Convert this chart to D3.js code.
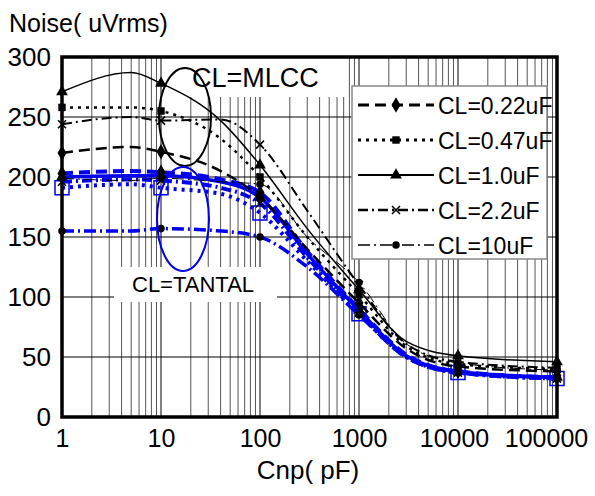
<!DOCTYPE html>
<html>
<head>
<meta charset="utf-8">
<script src="https://cdn.jsdelivr.net/npm/d3@7"></script>
<style>
  body { margin: 0; background: #fff; }
  text { font-family: "Liberation Sans", Arial, sans-serif; }
</style>
</head>
<body>
<script>
var cnp = [1, 5, 10, 40, 100, 300, 1000, 3000, 10000, 100000];
var xTicks = [1, 10, 100, 1000, 10000, 100000];
var yTicks = [0, 50, 100, 150, 200, 250, 300];
var labels = ["CL=0.22uF", "CL=0.47uF", "CL=1.0uF", "CL=2.2uF", "CL=10uF"];

// CL = MLCC (black)
var mlcc022 = [220, 225, 221, 205, 183, 140, 95, 57, 42, 38];
var mlcc047 = [258, 258, 255, 232, 200, 150, 102, 59, 44, 40];
var mlcc10  = [271, 287, 278, 247, 210, 157, 106, 63, 51, 46];
var mlcc22  = [244, 250, 247, 248, 227, 172, 110, 61, 46, 41];
var mlcc10u = [199, 197, 199, 196, 194, 150, 112, 61, 45, 39];

// CL = TANTAL (blue)
var tan022 = [203, 205, 204, 198, 187, 138, 90, 52, 38, 33];
var tan047 = [191, 194, 191, 186, 170, 130, 86, 50, 37, 32];
var tan10  = [200, 201, 201, 196, 183, 136, 89, 51, 38, 33];
var tan22  = [196, 198, 197, 191, 178, 133, 87, 50, 37, 32];
var tan10u = [155, 155, 157, 155, 150, 125, 85, 50, 37, 33];

var W = 595, H = 496;
var margin = {top: 57, right: 38, bottom: 79, left: 62},
    width = W - margin.left - margin.right,
    height = H - margin.top - margin.bottom;

var x = d3.scaleLog().domain([1, 100000]).range([0, width]);
var y = d3.scaleLinear().domain([0, 300]).range([height, 0]);

// line style per CL value
var styles = [
  {dash: "11,6", marker: "diamond", bw: 2.5, tw: 4},
  {dash: "3,5", marker: "square", bw: 2.5, tw: 4},
  {dash: null, marker: "triangle", bw: 1.5, tw: 3.5},
  {dash: "10,4,2,4", marker: "x", bw: 2, tw: 4},
  {dash: "12,4,2,4", marker: "circle", bw: 1, tw: 3.5}
];
var mlcc = [mlcc022, mlcc047, mlcc10, mlcc22, mlcc10u];
var tantal = [tan022, tan047, tan10, tan22, tan10u];

var svg = d3.select("body").append("svg")
    .attr("width", W).attr("height", H);

var g = svg.append("g")
    .attr("transform", "translate(" + margin.left + "," + margin.top + ")");

// grid
var minor = [];
for (var e = 0; e < 5; e++) {
  for (var m = 2; m <= 9; m++) minor.push(m * Math.pow(10, e));
}
g.selectAll(".vminor").data(minor).enter().append("line")
    .attr("x1", function(d) { return x(d); }).attr("x2", function(d) { return x(d); })
    .attr("y1", 0).attr("y2", height)
    .attr("stroke", "#555").attr("stroke-width", 1);
g.selectAll(".vmajor").data(xTicks).enter().append("line")
    .attr("x1", function(d) { return x(d); }).attr("x2", function(d) { return x(d); })
    .attr("y1", 0).attr("y2", height)
    .attr("stroke", "#000").attr("stroke-width", 1);
g.selectAll(".hgrid").data(yTicks).enter().append("line")
    .attr("x1", 0).attr("x2", width)
    .attr("y1", function(d) { return y(d); }).attr("y2", function(d) { return y(d); })
    .attr("stroke", "#000").attr("stroke-width", 1);

// white label boxes covering grid
g.append("rect").attr("x", 190 - margin.left).attr("y", 0)
    .attr("width", 155).attr("height", 40).attr("fill", "#fff");
g.append("rect").attr("x", 114 - margin.left).attr("y", 267 - margin.top)
    .attr("width", 163).attr("height", 35).attr("fill", "#fff");

var line = d3.line()
    .x(function(d, i) { return x(cnp[i]); })
    .y(function(d) { return y(d); })
    .curve(d3.curveMonotoneX);

function markerPath(type) {
  var sym = {diamond: d3.symbolDiamond, square: d3.symbolSquare,
             triangle: d3.symbolTriangle, circle: d3.symbolCircle}[type];
  if (sym) {
    var size = {diamond: 70, square: 55, triangle: 60, circle: 45}[type];
    return d3.symbol().type(sym).size(size)();
  }
  return "M-4,-4L4,4M-4,4L4,-4";
}

function drawSeries(data, st, color, lw, blue) {
  var s = g.append("g");
  s.append("path").datum(data)
      .attr("fill", "none")
      .attr("stroke", color)
      .attr("stroke-width", lw)
      .attr("stroke-dasharray", st.dash)
      .attr("d", line);
  var pts = data.map(function(v, i) { return [cnp[i], v]; })
      .filter(function(p) { return xTicks.indexOf(p[0]) >= 0; });
  var hollow = blue && st.marker == "square";
  s.selectAll("path.mk").data(pts).enter().append("path")
      .attr("class", "mk")
      .attr("transform", function(p) { return "translate(" + x(p[0]) + "," + y(p[1]) + ")"; })
      .attr("d", hollow ? "M-7,-7H7V7H-7Z" : markerPath(st.marker))
      .attr("fill", st.marker == "x" || hollow ? "none" : "#000")
      .attr("stroke", hollow ? "#0000ee" : (st.marker == "x" ? "#000" : "none"))
      .attr("stroke-width", 1.5);
}

tantal.forEach(function(d, i) { drawSeries(d, styles[i], "#0000ee", styles[i].tw, true); });
mlcc.forEach(function(d, i) { drawSeries(d, styles[i], "#000", styles[i].bw, false); });

// annotations
g.append("ellipse").attr("cx", 185 - margin.left).attr("cy", 117 - margin.top)
    .attr("rx", 26).attr("ry", 49)
    .attr("fill", "none").attr("stroke", "#000").attr("stroke-width", 2);
g.append("text").attr("x", 192 - margin.left).attr("y", 87 - margin.top)
    .attr("font-size", 27).text("CL=MLCC");
g.append("ellipse").attr("cx", 183 - margin.left).attr("cy", 219 - margin.top)
    .attr("rx", 26).attr("ry", 52)
    .attr("fill", "none").attr("stroke", "#0000ee").attr("stroke-width", 2);
g.append("text").attr("x", 132 - margin.left).attr("y", 292 - margin.top)
    .attr("font-size", 22).text("CL=TANTAL");

// legend
var lg = svg.append("g").attr("transform", "translate(352,86)");
lg.append("rect").attr("width", 195).attr("height", 173)
    .attr("fill", "#fff").attr("stroke", "#888").attr("stroke-width", 1.5);
labels.forEach(function(lab, i) {
  var row = lg.append("g").attr("transform", "translate(0," + (19 + i * 35) + ")");
  row.append("line").attr("x1", 6).attr("x2", 82).attr("y1", 0).attr("y2", 0)
      .attr("stroke", "#000").attr("stroke-width", styles[i].bw + 0.5)
      .attr("stroke-dasharray", styles[i].dash);
  row.append("path").attr("transform", "translate(44,0)")
      .attr("d", markerPath(styles[i].marker))
      .attr("fill", styles[i].marker == "x" ? "none" : "#000")
      .attr("stroke", styles[i].marker == "x" ? "#000" : "none")
      .attr("stroke-width", 1.5);
  row.append("text").attr("x", 86).attr("y", 9).attr("font-size", 23).text(lab);
});

// frame
g.append("rect").attr("width", width).attr("height", height)
    .attr("fill", "none").attr("stroke", "#000").attr("stroke-width", 3.5);

// axes (labels only)
var xAxis = d3.axisBottom(x).tickValues(xTicks).tickFormat(d3.format("d")).tickSize(0).tickPadding(12);
g.append("g").attr("transform", "translate(0," + height + ")").call(xAxis)
    .call(function(a) { a.select(".domain").remove(); })
    .selectAll("text").attr("font-size", 25).attr("fill", "#000")
    .attr("dx", function(d) { return d == 100000 ? -11 : (d == 10000 ? -4 : 0); })
    .style("font-family", "Liberation Sans, Arial, sans-serif");

var yAxis = d3.axisLeft(y).tickValues(yTicks).tickSize(0).tickPadding(11);
g.append("g").call(yAxis)
    .call(function(a) { a.select(".domain").remove(); })
    .selectAll("text").attr("font-size", 26).attr("fill", "#000")
    .style("font-family", "Liberation Sans, Arial, sans-serif");

svg.append("text").attr("x", 9).attr("y", 32).attr("font-size", 25).text("Noise( uVrms)");
svg.append("text").attr("x", 308).attr("y", 479)
    .attr("text-anchor", "middle").attr("font-size", 26).text("Cnp( pF)");
</script>
</body>
</html>
